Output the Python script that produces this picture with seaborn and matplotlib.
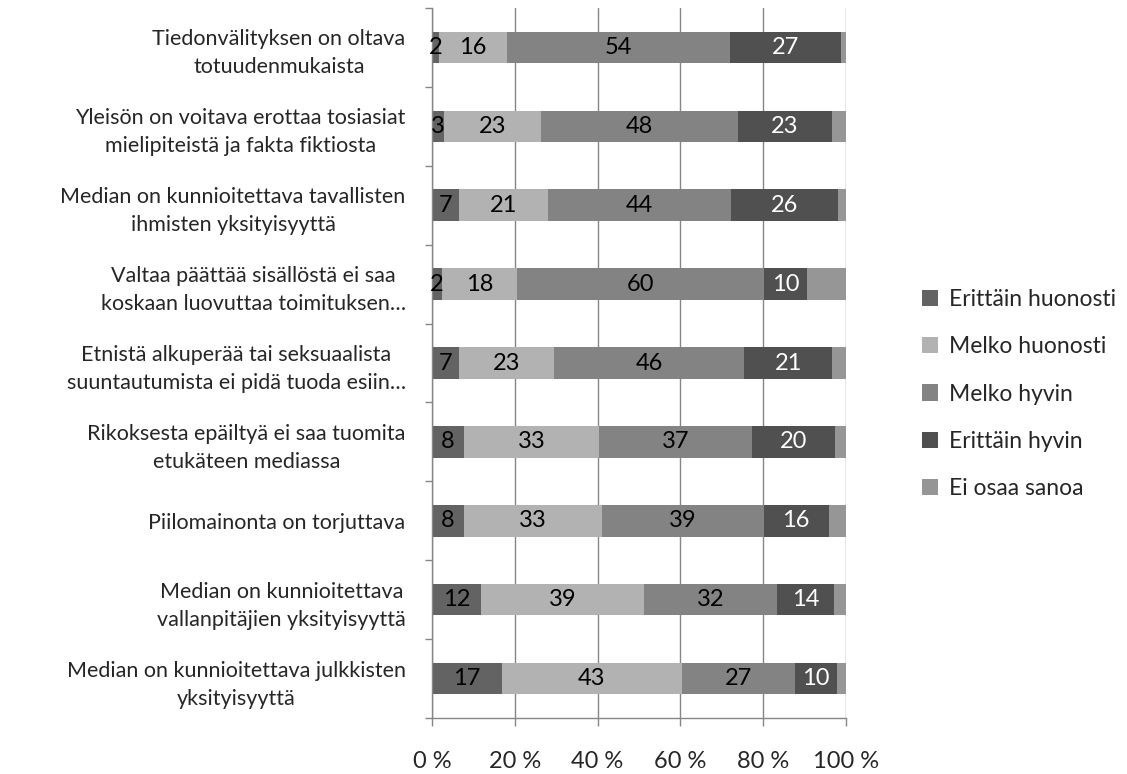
import matplotlib
matplotlib.use("Agg")
import matplotlib.pyplot as plt
import seaborn as sns
import numpy as np
import pandas as pd
from matplotlib.patches import Patch
from matplotlib.ticker import FixedLocator

sns.set_theme(style="white")
plt.rcParams['font.family'] = ['Lato', 'DejaVu Sans']

categories = [
    "Tiedonvälityksen on oltava\ntotuudenmukaista",
    "Yleisön on voitava erottaa tosiasiat\nmielipiteistä ja fakta fiktiosta",
    "Median on kunnioitettava tavallisten\nihmisten yksityisyyttä",
    "Valtaa päättää sisällöstä ei saa\nkoskaan luovuttaa toimituksen…",
    "Etnistä alkuperää tai seksuaalista\nsuuntautumista ei pidä tuoda esiin…",
    "Rikoksesta epäiltyä ei saa tuomita\netukäteen mediassa",
    "Piilomainonta on torjuttava",
    "Median on kunnioitettava\nvallanpitäjien yksityisyyttä",
    "Median on kunnioitettava julkkisten\nyksityisyyttä",
]
series = ["Erittäin huonosti", "Melko huonosti", "Melko hyvin", "Erittäin hyvin", "Ei osaa sanoa"]
erittain_huonosti = [1.6, 2.9, 6.6, 2.4, 6.6, 7.7, 7.7, 11.8, 16.9]
melko_huonosti = [16.4, 23.4, 21.3, 18.1, 22.9, 32.6, 33.3, 39.4, 43.4]
melko_hyvin = [54.1, 47.6, 44.4, 59.7, 45.9, 37.0, 39.1, 32.2, 27.4]
erittain_hyvin = [26.6, 22.7, 25.8, 10.4, 21.3, 20.0, 15.7, 13.6, 10.1]
ei_osaa = [1.3, 3.4, 1.9, 9.4, 3.3, 2.7, 4.2, 3.0, 2.2]
xtick_labels = ["0 %", "20 %", "40 %", "60 %", "80 %", "100 %"]

colors = ["#636363", "#b2b2b2", "#838383", "#505050", "#969696"]
label_colors = ["black", "black", "black", "white", None]

vals = np.array([erittain_huonosti, melko_huonosti, melko_hyvin, erittain_hyvin, ei_osaa])
cum = np.cumsum(vals, axis=0)

fig = plt.figure(figsize=(11.27, 7.74), dpi=100)
ax = fig.add_axes([432/1127, 1-718/774, (846-432)/1127, (718-8)/774])

for k in reversed(range(5)):
    df = pd.DataFrame({"cat": categories, "v": cum[k]})
    sns.barplot(data=df, x="v", y="cat", color=colors[k], width=0.4,
                orient="h", ax=ax, saturation=1, linewidth=0, order=categories)

fs_y = 15.5
fs_data = 17
fs_tick = 17
fs_leg = 16.5
for k in range(4):
    for i in range(len(categories)):
        left = cum[k][i] - vals[k][i]
        ax.text(left + vals[k][i] / 2, i, f"{vals[k][i]:.0f}", ha="center", va="center",
                fontsize=fs_data, color=label_colors[k])

ax.set_xlim(0, 100)
ax.set_ylim(len(categories) - 0.5, -0.5)
ax.set_xticks([0, 20, 40, 60, 80, 100])
ax.set_xticklabels(xtick_labels, fontsize=fs_tick)
ax.set_yticks(range(len(categories)))
ax.set_yticklabels(categories, fontsize=fs_y, linespacing=1.5, ha="right",
                   multialignment="center")
ax.yaxis.set_minor_locator(FixedLocator(np.arange(-0.5, len(categories), 1.0)))
ax.tick_params(axis="y", which="major", length=0, pad=19)
ax.tick_params(axis="y", which="minor", length=5, width=1, color="#868686", left=True)
ax.tick_params(axis="x", which="major", length=6, width=1, color="#868686", bottom=True, pad=18)
ax.set_xlabel("")
ax.set_ylabel("")

ax.set_axisbelow(True)
ax.grid(axis="x", color="#868686", linewidth=1)
ax.grid(axis="y", visible=False)
for s in ["top", "right"]:
    ax.spines[s].set_visible(False)
for s in ["left", "bottom"]:
    ax.spines[s].set_color("#868686")
    ax.spines[s].set_linewidth(1)

handles = [Patch(facecolor=c, edgecolor="none") for c in colors]
fig.legend(handles, series, loc="center left", bbox_to_anchor=(0.818, 1 - 394/774),
           frameon=False, fontsize=fs_leg, handlelength=0.7, handleheight=0.7,
           handletextpad=0.5, labelspacing=1.15, borderpad=0, borderaxespad=0)

fig.savefig("out.png", dpi=100)
